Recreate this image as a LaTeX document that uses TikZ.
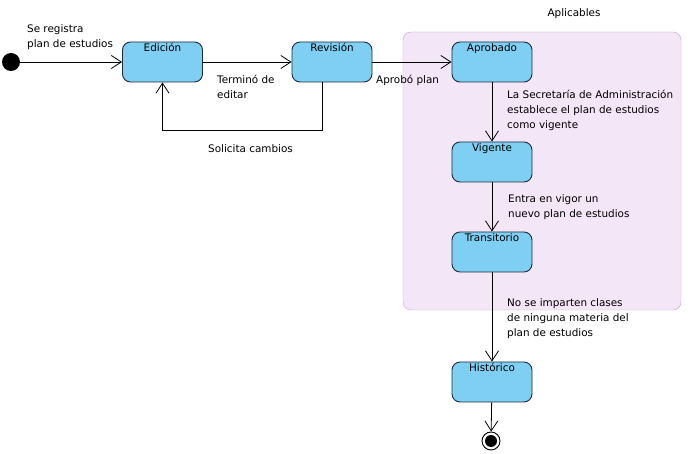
\documentclass[tikz,border=0pt]{standalone}
\usepackage{fontspec}
\setmainfont{DejaVu Sans}
\usetikzlibrary{arrows.meta}
\definecolor{estadoAzul}{HTML}{7FCFF3}
\definecolor{estadoBorde}{HTML}{1E2B38}
\definecolor{regionFondo}{HTML}{F3E6F7}
\definecolor{regionBorde}{HTML}{C9A3DA}
\tikzset{
	every node/.style={font=\fontsize{10.4}{15}\selectfont},
	estado/.style={draw=estadoBorde, fill=estadoAzul, line width=0.9pt, rounded corners=8pt, minimum width=80pt, minimum height=40pt, inner ysep=3pt, text height=7pt, text depth=27pt},
	etiqueta/.style={anchor=north west, inner sep=0pt, align=left},
	trans/.style={-{Straight Barb[length=10pt,width=13pt]}, line width=0.8pt},
}

\begin{document}
\begin{tikzpicture}[x=1pt, y=-1pt]
				\useasboundingbox (0,0) rectangle (694,454);
				\node[draw=regionBorde, fill=regionFondo, rounded corners=8pt, minimum width=278pt, minimum height=278pt] (aplicables) at (542,171) {};
				\node (tituloAplic) at (574,14) {Aplicables};
				\node[circle, fill=black, minimum size=18pt, inner sep=0pt] (inicio) at (11,62) {};
				\node[estado] (edicion) at (162.5,62) {Edición};
				\node[estado] (revision) at (332,62) {Revisión};
				\node[estado] (aprobado) at (492,62) {Aprobado};
				\node[estado] (vigente) at (492,162) {Vigente};
				\node[estado] (transitorio) at (492,252) {Transitorio};
				\node[estado] (historico) at (492,382) {Histórico};
				\node[circle, draw, line width=0.9pt, fill=white, minimum size=18pt, inner sep=0pt, path picture={\fill[black] (path picture bounding box.center) circle (6pt);}] (fin) at (491,441) {};
				\node[etiqueta] (lblRegistra) at (27,24.5) {Se registra\\plan de estudios};
				\node[etiqueta] (lblTermino) at (217,74.5) {Terminó de\\editar};
				\node[etiqueta] (lblAprobo) at (376,74.5) {Aprobó plan};
				\node[etiqueta] (lblSolicita) at (208,144.5) {Solicita cambios};
				\node[etiqueta] (lblSecretaria) at (507,89.5) {La Secretaría de Administración\\establece el plan de estudios\\como vigente};
				\node[etiqueta] (lblVigor) at (508,194.5) {Entra en vigor un\\nuevo plan de estudios};
				\node[etiqueta] (lblClases) at (507,298.5) {No se imparten clases\\de ninguna materia del\\plan de estudios};
				\draw[trans] (inicio) -- (edicion);
				\draw[trans] (edicion) -- (revision);
				\draw[trans] (revision) -- (aprobado);
				\draw[trans] ([xshift=-10pt]revision.south) -- ++(0,48) -| (edicion.south);
				\draw[trans] (aprobado) -- (vigente);
				\draw[trans] (vigente) -- (transitorio);
				\draw[trans] (transitorio) -- (historico);
				\draw[trans] (historico) -- (fin);
			\end{tikzpicture}
\end{document}
